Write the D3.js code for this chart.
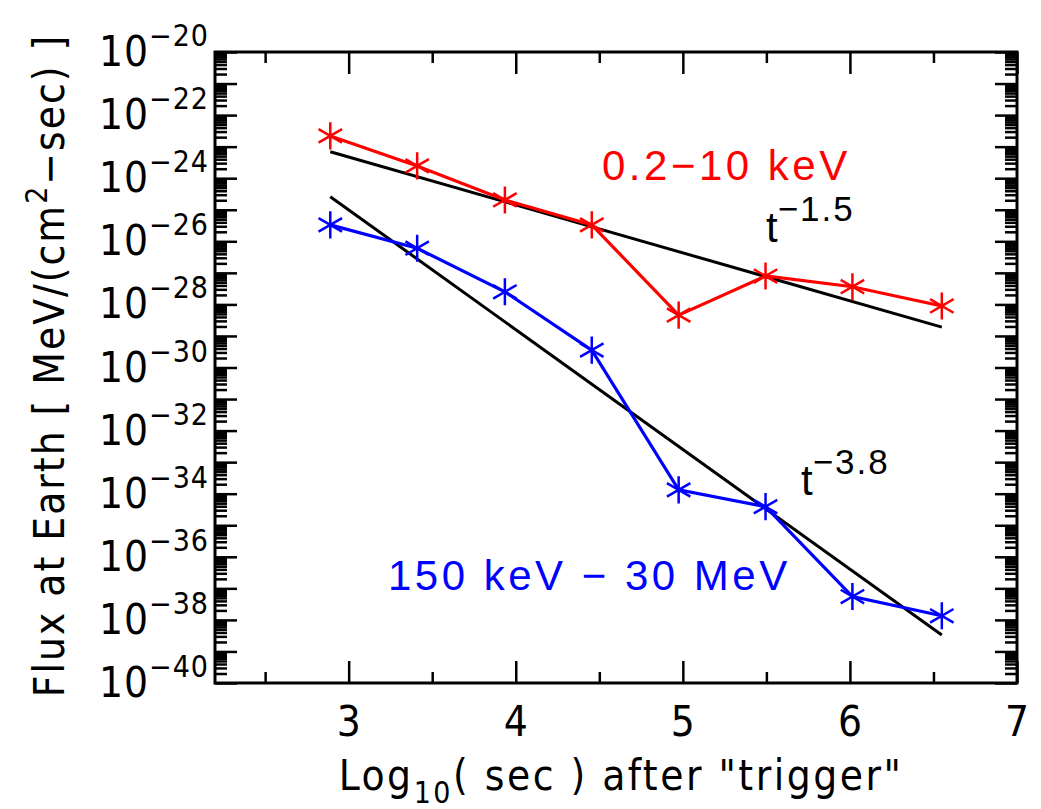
<!DOCTYPE html>
<html>
<head>
<meta charset="utf-8">
<script src="https://cdn.jsdelivr.net/npm/d3@7"></script>
<style>
  body { margin: 0; background: #fff; }
  text { font-family: "Liberation Sans", Arial, sans-serif; }
  .axislbl { font-family: "Liberation Sans Narrow", "DejaVu Sans Condensed", "Liberation Sans", sans-serif; }
</style>
</head>
<body>
<div id="chart"></div>
<script>
// log10(sec) after trigger, one per measurement
var logTime = [2.89, 3.41, 3.935, 4.455, 4.975, 5.495, 6.015, 6.55];
// flux at earth, MeV/(cm^2 sec)
var softFlux = [2.19e-23, 2.45e-24, 2.04e-25, 3.31e-26, 4.57e-29, 7.94e-28, 3.63e-28, 8.91e-29];
var hardFlux = [3.31e-26, 6.03e-27, 2.51e-28, 3.55e-30, 1.32e-34, 3.89e-35, 5.50e-38, 1.35e-38];
// power law guide lines (end points)
var fitTime = [2.89, 6.55];
var fitSoft = [6.9e-24, 1.9e-29];
var fitHard = [2.6e-25, 3.3e-39];
// axis ticks
var xMajor = [3, 4, 5, 6, 7];
var xMinor = [2.5, 3.5, 4.5, 5.5, 6.5];
var yLabelExp = [-20, -22, -24, -26, -28, -30, -32, -34, -36, -38, -40];

var svgWidth = 1041, svgHeight = 809;
var margin = {top: 52, right: 24, bottom: 126, left: 215};
var chartW = svgWidth - margin.left - margin.right;
var chartH = svgHeight - margin.top - margin.bottom;

var svg = d3.select('#chart').append('svg')
    .attr('width', svgWidth)
    .attr('height', svgHeight);
var g = svg.append('g')
    .attr('transform', `translate(${margin.left}, ${margin.top})`);

var xScale = d3.scaleLinear().domain([2.2, 7]).range([0, chartW]);
var yScale = d3.scaleLog().domain([1e-40, 1e-20]).range([chartH, 0]);

// y ticks: every decade long, 2..9 short
var yMajor = d3.range(-40, -19).map(e => Math.pow(10, e));
var yMinor = [];
d3.range(-40, -20).forEach(e => {
    for (var k = 2; k <= 9; k++) yMinor.push(k * Math.pow(10, e));
});

function tickAxis(axis, vals, size) {
    return axis.tickValues(vals).tickSize(size).tickFormat('');
}

var axes = [
    {ax: d3.axisBottom(xScale), vals: xMajor, size: -22, tr: `translate(0,${chartH})`},
    {ax: d3.axisBottom(xScale), vals: xMinor, size: -11, tr: `translate(0,${chartH})`},
    {ax: d3.axisTop(xScale), vals: xMajor, size: -22, tr: 'translate(0,0)'},
    {ax: d3.axisTop(xScale), vals: xMinor, size: -11, tr: 'translate(0,0)'},
    {ax: d3.axisLeft(yScale), vals: yMajor, size: -22, tr: 'translate(0,0)'},
    {ax: d3.axisLeft(yScale), vals: yMinor, size: -12, tr: 'translate(0,0)'},
    {ax: d3.axisRight(yScale), vals: yMajor, size: -22, tr: `translate(${chartW},0)`},
    {ax: d3.axisRight(yScale), vals: yMinor, size: -12, tr: `translate(${chartW},0)`}
];
axes.forEach(a => {
    var ag = g.append('g').attr('transform', a.tr)
        .call(tickAxis(a.ax, a.vals, a.size));
    ag.select('.domain').remove();
    ag.selectAll('line').attr('stroke', '#000').attr('stroke-width', 2.5);
});

// frame
g.append('rect')
    .attr('width', chartW).attr('height', chartH)
    .attr('fill', 'none').attr('stroke', '#000').attr('stroke-width', 3);

// x tick labels
g.selectAll('.xlbl').data(xMajor).enter().append('text')
    .attr('class', 'axislbl')
    .attr('x', d => xScale(d))
    .attr('y', chartH + 53)
    .attr('text-anchor', 'middle')
    .attr('font-size', '42px')
    .text(d => d);

// y tick labels 10^n
var yl = g.selectAll('.ylbl').data(yLabelExp).enter().append('text')
    .attr('class', 'axislbl')
    .attr('x', -6)
    .attr('y', d => yScale(Math.pow(10, d)) + 14)
    .attr('text-anchor', 'end')
    .attr('font-size', '42px');
yl.append('tspan').attr('letter-spacing', '1px').text('10');
yl.append('tspan').attr('dy', -20).attr('font-size', '30px').attr('letter-spacing', '1px').text(d => '\u2212' + (-d));

// axis titles
var xt = g.append('text')
    .attr('class', 'axislbl')
    .attr('x', chartW / 2 + 5)
    .attr('y', chartH + 107)
    .attr('text-anchor', 'middle')
    .attr('font-size', '42px')
    .attr('letter-spacing', '2.5px');
xt.append('tspan').text('Log');
xt.append('tspan').attr('dy', 13).attr('font-size', '30px').text('10');
xt.append('tspan').attr('dy', -13).text('( sec ) after "trigger"');

var yt = svg.append('text')
    .attr('class', 'axislbl')
    .attr('transform', `translate(64, ${margin.top + chartH / 2 - 2}) rotate(-90)`)
    .attr('text-anchor', 'middle')
    .attr('font-size', '42px')
    .attr('letter-spacing', '2px');
yt.append('tspan').text('Flux at Earth [ MeV/(cm');
yt.append('tspan').attr('dy', -17).attr('font-size', '30px').text('2');
yt.append('tspan').attr('dy', 17).text('\u2212sec) ]');

// guide lines
var line = d3.line().x(d => xScale(d[0])).y(d => yScale(d[1]));
[fitSoft, fitHard].forEach(f => {
    g.append('path')
        .datum(d3.zip(fitTime, f))
        .attr('d', line)
        .attr('fill', 'none').attr('stroke', '#000').attr('stroke-width', 3);
});

// data series
var star = d3.symbol().type(d3.symbolAsterisk).size(520);
[{vals: softFlux, color: '#ff0000'}, {vals: hardFlux, color: '#0000ff'}].forEach(s => {
    var pts = d3.zip(logTime, s.vals);
    g.append('path')
        .datum(pts)
        .attr('d', line)
        .attr('fill', 'none').attr('stroke', s.color).attr('stroke-width', 3.2);
    g.selectAll(null).data(pts).enter().append('path')
        .attr('transform', d => `translate(${xScale(d[0])},${yScale(d[1])})`)
        .attr('d', star)
        .attr('fill', 'none').attr('stroke', s.color).attr('stroke-width', 2.5);
});

// annotations
svg.append('text')
    .attr('x', 602).attr('y', 180)
    .attr('font-size', '42px').attr('fill', '#ff0000')
    .attr('letter-spacing', '3.5px')
    .text('0.2\u221210 keV');

svg.append('text')
    .attr('x', 388).attr('y', 590)
    .attr('font-size', '42px').attr('fill', '#0000ff')
    .attr('letter-spacing', '3.5px')
    .text('150 keV \u2212 30 MeV');

[{x: 766, y: 242, exp: '\u22121.5'}, {x: 801, y: 495, exp: '\u22123.8'}].forEach(a => {
    var t = svg.append('text')
        .attr('x', a.x).attr('y', a.y)
        .attr('font-size', '42px').attr('fill', '#000');
    t.append('tspan').text('t');
    t.append('tspan').attr('dy', -21).attr('font-size', '35px').attr('letter-spacing', '2px').text(a.exp);
});
</script>
</body>
</html>
